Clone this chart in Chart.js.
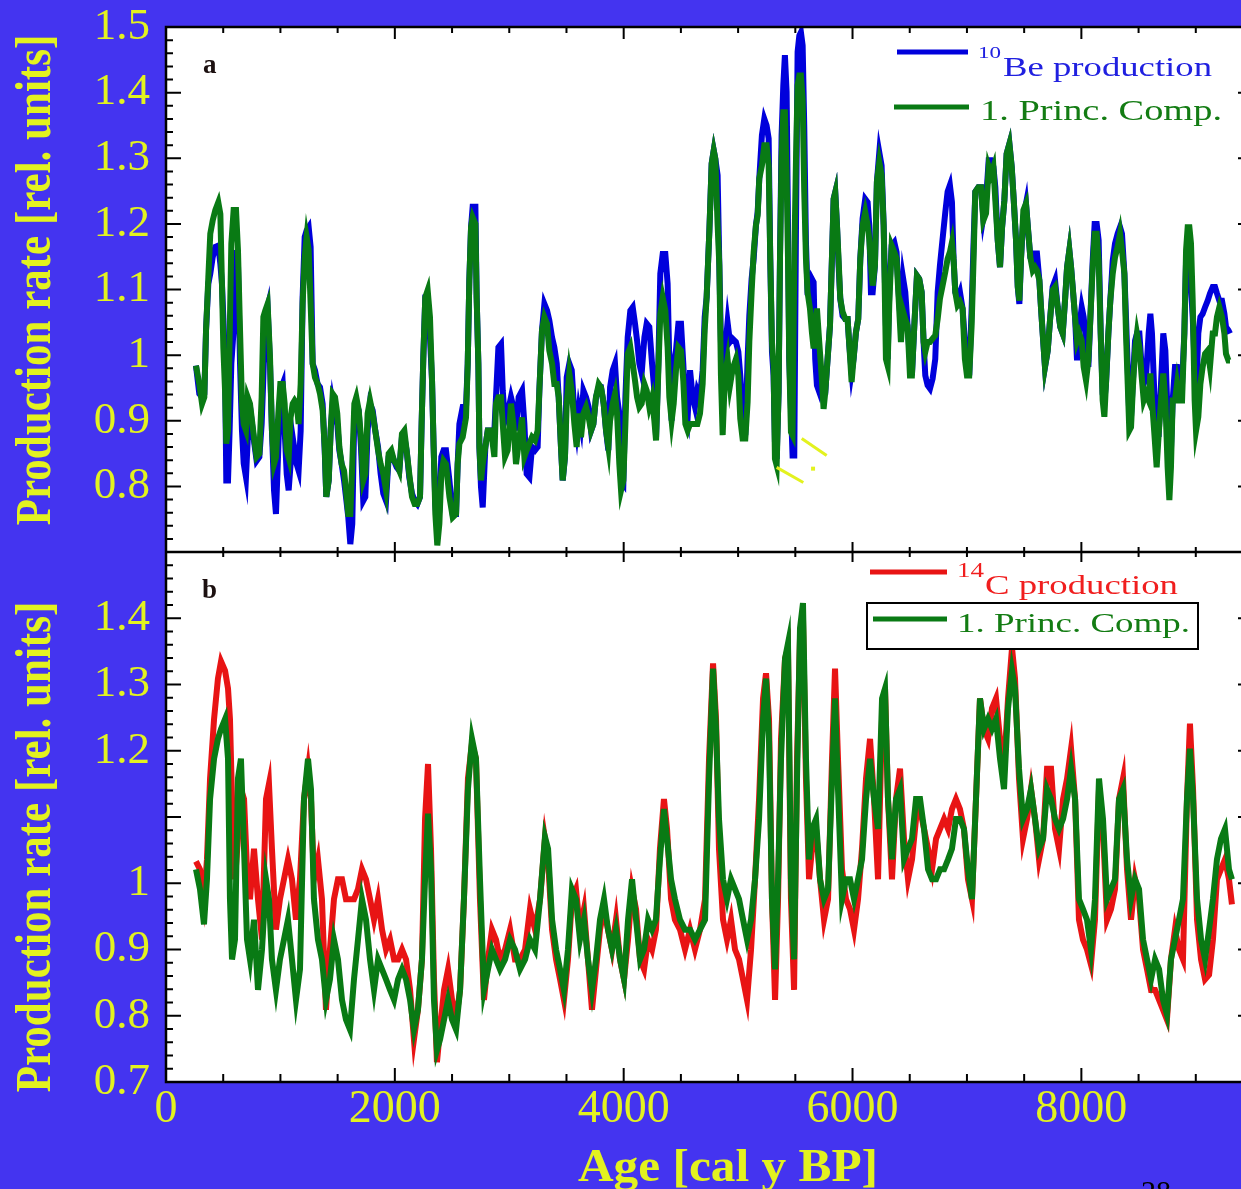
<!DOCTYPE html>
<html>
<head>
<meta charset="utf-8">
<script src="https://cdn.jsdelivr.net/npm/chart.js@4.4.1/dist/chart.umd.min.js"></script>
<style>
html,body{margin:0;padding:0;overflow:hidden;background:#4434f0}
#wrap{position:relative;width:1260px;height:1189px}
#page{position:absolute;left:1141px;top:1176px;font:30px "Liberation Serif",serif;line-height:1;color:#000}
</style>
</head>
<body>
<div id="wrap"><canvas id="c"></canvas></div>
<div id="page">28</div>
<script>
// ---- panel a : 10Be production and first principal component ----
const ageA=[
262,291,315,335,350,370,387,408,431,457,475,489,501,516,527,542,556,571,591,612,
629,647,664,679,699,714,734,752,772,792,816,836,851,868,888,909,926,944,961,982,
999,1020,1037,1055,1072,1089,1107,1124,1142,1159,1177,1194,1212,1229,1247,1264,1282,1302,1325,1346,
1369,1387,1401,1422,1439,1457,1477,1497,1515,1535,1556,1573,1593,1611,1628,1646,1663,1684,1704,1724,
1742,1762,1783,1806,1829,1853,1876,1899,1923,1946,1969,1993,2016,2039,2062,2083,2103,2126,2150,2173,
2196,2220,2234,2249,2266,2287,2307,2325,2339,2354,2371,2389,2406,2426,
2447,2477,2506,2535,2549,2564,2593,2622,2637,2651,2666,2680,2704,2715,2730,2739,2753,2768,2791,2812,
2841,2870,2884,2905,2928,2943,2963,2986,3015,3036,3059,3082,3112,3132,3152,3176,3199,3225,3248,3263,
3286,3307,3330,3350,3374,3394,3415,3432,3452,3467,3487,3502,3525,3546,3569,3589,3607,3627,3648,3671,
3694,3715,3735,3758,3782,3802,3825,3846,3866,3881,3904,3924,3942,3962,3977,3997,4015,4035,4058,4079,
4099,4117,4137,4157,4181,4201,4224,4248,4268,4283,4303,4320,4341,4364,4384,4399,4419,4437,4457,4478,
4501,4521,4539,4559,4580,4603,4623,4644,4667,4690,4708,4725,4749,4769,4787,
4801,4821,4836,4850,4865,4885,4908,4929,4952,4981,5002,5019,5039,5063,5083,5098,5118,5136,5156,5171,
5185,5208,5229,5249,5267,5281,5296,5310,5322,5337,5354,5366,5380,5395,5409,5424,5436,5447,5462,5476,
5491,5506,5520,5535,5549,5564,5578,5593,5607,5628,5645,5660,5674,5689,5709,5730,5747,5762,5782,5803,
5820,5835,5849,5864,5878,5893,5913,5937,5957,5972,5992,6009,6030,6050,6068,6088,6111,6132,6146,6161,
6176,6196,6213,6234,6254,6272,6292,6307,6321,6342,6365,6385,6403,6423,6443,6461,6481,6502,6519,6540,
6563,6583,6604,6621,6636,6656,6677,6700,6723,6744,6764,6787,6811,6831,6851,6869,6883,6898,6918,6939,
6962,6982,7000,7020,7041,7058,7073,
7100,7123,7143,7167,7190,7210,7231,7248,7269,7289,7307,7327,7347,7371,7391,7409,7429,7444,7458,7473,
7493,7516,7537,7554,7575,7595,7612,7633,7647,7662,7682,7706,7726,7749,7770,7793,7816,7837,7857,7875,
7895,7910,7924,7945,7962,7982,8003,8020,8041,8061,8079,8099,8116,8134,8151,8169,8186,8201,8215,8236,
8253,8274,8294,8317,8338,8355,8376,8390,8405,8419,8434,8449,8469,8486,8507,8527,8545,8565,8588,8603,
8617,8638,8658,8676,8696,8716,8734,8754,8769,8783,8798,8818,8836,8856,8880,8900,8915,8929,8944,8958,
8973,8990,9002,9022,9040,9060,9081,9104,9124,9148,9168,9185,9206,9229,9250,9264,9285,9299
];
const beProd=[
0.984,0.941,0.936,0.941,1.038,1.109,1.124,1.149,1.165,1.167,1.139,1.109,1.058,0.987,0.809,0.809,0.885,0.987,1.038,1.160,
1.139,0.987,0.885,0.835,0.814,0.870,0.921,0.895,0.865,0.839,0.845,0.895,0.966,1.058,1.073,0.987,0.885,0.794,0.758,0.860,
0.946,0.956,0.885,0.819,0.794,0.834,0.875,0.855,0.834,0.824,0.885,1.088,1.180,1.190,1.195,1.165,0.987,0.977,0.956,0.951,
0.926,0.855,0.784,0.809,0.885,0.926,0.905,0.895,0.855,0.834,0.809,0.784,0.753,0.712,0.743,0.911,0.926,0.916,0.860,0.778,
0.784,0.885,0.926,0.916,0.885,0.860,0.819,0.789,0.778,0.845,0.850,0.839,0.829,0.824,0.875,0.875,0.855,0.814,0.789,0.778,
0.773,0.784,0.895,0.997,1.088,1.088,1.027,0.961,0.860,0.773,0.733,0.763,0.845,0.855,
0.855,0.809,0.758,0.758,0.834,0.895,0.921,0.921,0.987,1.114,1.195,1.226,1.226,1.088,0.987,0.860,0.799,0.768,0.860,0.885,
0.885,0.885,0.936,1.012,1.017,0.946,0.900,0.911,0.936,0.921,0.885,0.936,0.946,0.895,0.819,0.814,0.860,0.855,0.860,0.946,
1.038,1.078,1.068,1.053,1.027,1.012,0.987,0.936,0.860,0.809,0.845,0.966,0.987,0.977,0.911,0.885,0.916,0.895,0.946,0.936,
0.921,0.885,0.895,0.936,0.951,0.951,0.926,0.885,0.855,0.951,0.977,0.987,0.936,0.911,0.809,0.804,0.936,1.027,1.068,1.073,
1.048,1.022,0.987,0.972,1.027,1.048,1.043,0.987,0.946,0.875,0.987,1.124,1.154,1.154,1.109,0.987,0.900,0.987,1.007,1.048,
1.048,0.987,0.921,0.905,0.977,0.936,0.921,0.946,0.936,0.977,1.058,1.088,1.190,1.292,1.312,
1.299,1.274,1.137,1.020,0.944,1.005,1.050,1.020,1.025,1.020,1.005,0.969,0.913,0.878,0.994,1.060,1.116,1.147,1.198,1.218,
1.269,1.335,1.360,1.350,1.330,1.147,1.005,0.969,0.867,0.842,0.944,1.147,1.335,1.411,1.457,1.401,1.198,0.994,0.918,0.847,
0.847,1.198,1.462,1.487,1.492,1.472,1.350,1.172,1.096,1.096,1.116,1.111,0.994,0.954,0.944,0.964,0.944,0.944,0.994,1.045,
1.147,1.238,1.248,1.198,1.137,1.086,1.060,1.055,1.055,1.015,0.974,0.994,1.035,1.055,1.147,1.208,1.238,1.233,1.198,1.096,
1.096,1.137,1.264,1.309,1.289,1.198,1.045,0.994,1.096,1.167,1.172,1.157,1.096,1.045,1.116,1.096,1.045,0.994,0.969,1.045,
1.121,1.116,1.096,1.020,0.969,0.954,0.949,0.964,0.994,1.096,1.137,1.177,1.218,1.249,1.259,1.233,1.147,1.096,1.086,1.096,
1.071,1.020,0.994,0.969,1.071,1.172,1.249,
1.256,1.256,1.210,1.236,1.297,1.297,1.287,1.256,1.175,1.134,1.195,1.236,1.307,1.322,1.287,1.236,1.175,1.104,1.078,1.149,
1.210,1.231,1.185,1.149,1.144,1.155,1.155,1.114,1.073,1.033,0.982,1.007,1.053,1.104,1.114,1.073,1.043,1.033,1.083,1.134,
1.160,1.134,1.104,1.058,0.992,1.043,1.073,1.058,1.022,0.982,1.058,1.144,1.200,1.200,1.175,1.033,0.941,0.931,0.956,1.033,
1.083,1.144,1.170,1.185,1.195,1.185,1.124,1.058,0.982,0.906,0.906,0.956,1.022,1.033,1.033,0.982,0.956,0.967,1.033,1.063,
1.033,0.941,0.880,0.880,0.956,1.033,1.007,0.906,0.840,0.855,0.931,0.982,0.982,0.956,0.956,1.033,1.144,1.149,1.134,1.104,
1.058,0.982,0.931,1.033,1.058,1.063,1.073,1.083,1.094,1.104,1.104,1.094,1.083,1.083,1.063,1.043,1.038,1.033
];
const pcA=[
0.984,0.956,0.926,0.936,1.038,1.119,1.185,1.205,1.221,1.233,1.215,1.109,1.012,0.946,0.865,0.885,1.027,1.170,1.221,1.221,
1.160,1.038,0.926,0.895,0.885,0.936,0.926,0.900,0.870,0.845,0.850,0.936,1.058,1.068,1.078,0.997,0.885,0.834,0.844,0.911,
0.956,0.956,0.926,0.855,0.844,0.905,0.926,0.931,0.926,0.895,0.956,1.078,1.149,1.180,1.160,1.078,0.987,0.966,0.956,0.941,
0.916,0.860,0.784,0.809,0.885,0.941,0.936,0.911,0.860,0.834,0.824,0.794,0.758,0.758,0.834,0.926,0.936,0.916,0.875,0.809,
0.819,0.911,0.931,0.911,0.885,0.855,0.834,0.819,0.794,0.850,0.855,0.839,0.834,0.824,0.880,0.885,0.855,0.819,0.784,0.773,
0.773,0.784,0.895,0.997,1.088,1.099,1.058,0.961,0.860,0.758,0.710,0.743,0.819,0.839,
0.834,0.784,0.753,0.758,0.834,0.865,0.875,0.905,0.987,1.114,1.195,1.210,1.200,1.088,0.987,0.860,0.809,0.834,0.860,0.885,
0.885,0.845,0.926,0.936,0.936,0.895,0.845,0.855,0.926,0.895,0.834,0.865,0.905,0.845,0.855,0.865,0.875,0.870,0.885,0.946,
1.038,1.058,1.048,1.007,0.987,0.956,0.956,0.936,0.860,0.809,0.845,0.926,0.972,0.946,0.895,0.860,0.911,0.875,0.911,0.921,
0.905,0.885,0.895,0.936,0.956,0.951,0.926,0.885,0.860,0.900,0.926,0.941,0.911,0.834,0.794,0.809,0.895,1.002,1.012,0.987,
0.961,0.936,0.921,0.926,0.956,0.946,0.921,0.936,0.900,0.870,0.977,1.063,1.088,1.068,1.012,0.936,0.900,0.926,0.977,1.012,
1.007,0.961,0.895,0.885,0.895,0.895,0.895,0.895,0.911,0.956,1.038,1.088,1.190,1.292,1.312,
1.299,1.198,1.137,0.969,0.878,0.969,0.994,0.954,0.979,0.994,0.969,0.903,0.873,0.873,0.928,1.020,1.096,1.157,1.198,1.213,
1.269,1.289,1.320,1.320,1.289,1.147,1.020,0.984,0.842,0.832,0.944,1.147,1.299,1.370,1.370,1.274,1.147,0.994,0.883,0.878,
1.147,1.299,1.411,1.426,1.426,1.391,1.249,1.147,1.096,1.071,1.035,1.010,1.045,1.071,1.020,0.969,0.918,0.944,0.994,1.045,
1.147,1.238,1.248,1.198,1.147,1.086,1.066,1.055,1.055,1.015,0.959,0.994,1.035,1.055,1.147,1.198,1.218,1.198,1.177,1.137,
1.106,1.137,1.264,1.294,1.274,1.198,0.994,0.984,1.076,1.167,1.157,1.147,1.086,1.020,1.066,1.055,1.045,0.969,0.969,1.045,
1.121,1.116,1.096,1.020,1.005,1.020,1.020,1.025,1.030,1.055,1.086,1.106,1.127,1.147,1.157,1.172,1.147,1.096,1.076,1.081,
1.071,0.994,0.969,0.969,1.045,1.147,1.249,
1.256,1.256,1.205,1.216,1.287,1.276,1.287,1.236,1.175,1.134,1.195,1.236,1.307,1.322,1.287,1.236,1.175,1.104,1.083,1.149,
1.221,1.231,1.185,1.149,1.129,1.134,1.129,1.114,1.073,1.033,0.982,1.007,1.053,1.099,1.104,1.073,1.043,1.033,1.083,1.134,
1.160,1.134,1.104,1.058,1.022,1.033,1.022,0.982,0.961,0.992,1.058,1.134,1.185,1.185,1.144,1.033,0.931,0.906,0.956,1.033,
1.083,1.124,1.149,1.165,1.185,1.160,1.124,1.033,0.956,0.885,0.890,0.946,1.007,1.033,1.012,0.967,0.931,0.941,0.931,0.972,
0.931,0.880,0.829,0.880,0.931,0.972,0.931,0.829,0.779,0.829,0.931,0.931,0.956,0.931,0.931,1.033,1.160,1.195,1.195,1.170,
1.083,0.931,0.885,0.906,0.956,0.982,1.002,1.007,0.982,1.033,1.033,1.058,1.073,1.058,1.033,1.002,0.992,0.992
];

// ---- panel b : 14C production and first principal component ----
const ageB=[
262,297,332,358,385,420,454,481,516,542,559,577,603,629,655,682,708,734,769,804,
839,874,900,926,961,996,1031,1066,1101,1136,1171,1206,1241,1267,1293,1328,1363,1398,1433,1468,
1503,1538,1573,1608,1643,1678,1713,1748,1783,1818,1853,1888,1923,1958,1993,2028,2063,2098,2133,2167,
2202,2237,2264,2290,2316,2342,2368,2395,2430,2465,2500,2535,2570,2604,2639,2674,2709,2744,2779,2814,
2849,2884,2919,2963,3007,3050,3094,3138,3181,3225,3269,3312,3339,3374,3409,3444,3478,3513,3548,3583,
3618,3653,3688,3723,3758,3793,3828,3863,3898,3933,3968,4003,4038,4073,4108,4143,4178,4213,4248,4282,
4317,4352,4379,4414,4448,4492,4536,4580,4623,4667,4711,4746,4781,4807,4833,4868,4903,4938,4973,5008,
5043,5078,5113,5148,5183,5218,5244,5270,5296,5323,5349,5375,5410,5436,5462,5489,5515,5541,5567,5593,
5620,5646,5681,5716,5751,5786,5821,5847,5873,5908,5943,5978,6013,6048,6083,6118,6153,6188,6223,6258,
6284,6310,6345,6380,6415,6450,6485,6520,6555,6590,6625,6660,6695,6730,6765,6800,6835,6869,6904,6939,
6974,7009,7044,7079,7114,7149,7184,7219,7254,7289,7324,7359,7394,7420,7455,7490,7525,7560,7595,7630,
7665,7700,7735,7770,7805,7840,7875,7910,7945,7979,8014,8049,8084,8119,8154,8189,8224,8259,8294,8329,
8364,8399,8434,8469,8504,8539,8574,8609,8644,8679,8714,8748,8783,8818,8853,8888,8923,8949,8976,9011,
9046,9081,9116,9150,9185,9220,9255,9290,9316
];
const c14Prod=[
1.033,1.021,0.976,1.036,1.158,1.248,1.309,1.335,1.321,1.294,1.248,1.127,1.006,1.067,1.142,1.127,1.021,0.976,1.052,0.976,
0.915,1.127,1.150,1.052,0.930,0.976,1.006,1.036,1.006,0.945,1.006,1.127,1.173,1.127,1.006,1.036,0.976,0.809,0.900,0.976,
1.006,1.006,0.976,0.976,0.976,0.991,1.021,1.006,0.976,0.945,0.976,0.930,0.900,0.915,0.885,0.885,0.900,0.885,0.839,0.764,
0.809,0.885,1.097,1.180,1.052,0.855,0.730,0.779,0.839,0.870,0.824,0.794,0.839,0.976,1.158,1.211,1.188,0.976,0.824,0.885,
0.930,0.915,0.885,0.900,0.930,0.885,0.885,0.900,0.961,0.930,0.976,1.067,1.036,0.930,0.885,0.855,0.824,0.885,0.976,0.991,
0.930,0.961,0.885,0.809,0.870,0.930,0.961,0.930,0.900,0.945,0.885,0.855,0.915,0.991,0.961,0.885,0.870,0.915,0.900,0.930,
1.052,1.127,1.082,0.976,0.945,0.930,0.900,0.930,0.900,0.930,0.976,1.188,1.332,1.248,1.052,0.945,0.915,0.945,0.900,0.885,
0.855,0.824,0.900,1.006,1.127,1.279,1.317,1.248,0.976,0.824,0.976,1.218,1.339,1.355,0.976,0.839,1.188,1.370,1.400,1.158,
1.006,1.052,1.082,1.006,0.945,0.976,1.188,1.324,1.188,1.021,0.976,0.961,0.930,0.976,1.052,1.158,1.218,1.127,1.006,1.248,
1.294,1.127,1.006,1.127,1.173,1.067,1.006,1.036,1.097,1.112,1.082,1.052,1.021,1.067,1.082,1.097,1.082,1.112,1.127,1.112,
1.082,1.006,0.976,1.127,1.279,1.233,1.218,1.264,1.279,1.218,1.173,1.279,1.355,1.309,1.158,1.067,1.097,1.142,1.097,1.036,
1.067,1.173,1.173,1.082,1.052,1.127,1.158,1.203,1.127,0.945,0.915,0.900,0.877,0.945,1.142,1.082,0.945,0.961,0.991,1.127,
1.158,1.021,0.945,1.006,0.976,0.900,0.870,0.839,0.839,0.824,0.809,0.794,0.885,0.930,0.900,0.885,1.127,1.241,1.142,0.945,
0.885,0.855,0.862,0.915,1.006,1.021,1.036,1.006,0.968
];
const pcB=[
1.021,0.991,0.938,1.006,1.127,1.188,1.218,1.233,1.248,1.188,0.976,0.885,0.915,1.158,1.188,1.052,0.915,0.885,0.945,0.839,
0.900,1.006,0.976,0.885,0.839,0.885,0.915,0.945,0.885,0.824,0.870,1.127,1.188,1.142,0.976,0.915,0.885,0.824,0.855,0.915,
0.885,0.824,0.794,0.779,0.855,0.915,0.976,0.945,0.885,0.839,0.885,0.870,0.855,0.839,0.824,0.855,0.870,0.855,0.824,0.779,
0.809,0.885,1.006,1.105,1.021,0.824,0.748,0.764,0.794,0.824,0.794,0.779,0.839,0.976,1.142,1.218,1.188,1.006,0.839,0.870,
0.900,0.885,0.870,0.885,0.915,0.900,0.870,0.885,0.915,0.900,0.976,1.070,1.052,0.945,0.900,0.870,0.839,0.900,0.991,0.976,
0.915,0.945,0.885,0.839,0.885,0.945,0.976,0.930,0.900,0.930,0.885,0.855,0.945,1.006,0.945,0.885,0.900,0.945,0.930,0.945,
1.036,1.112,1.067,1.006,0.976,0.945,0.930,0.930,0.915,0.930,0.945,1.158,1.324,1.233,1.097,1.006,0.976,1.006,0.991,0.976,
0.945,0.915,0.945,1.006,1.097,1.248,1.309,1.218,0.976,0.870,1.006,1.188,1.339,1.362,1.006,0.885,1.158,1.385,1.423,1.188,
1.036,1.082,1.097,1.006,0.976,0.991,1.158,1.279,1.142,0.976,1.006,1.006,0.976,1.006,1.036,1.127,1.188,1.127,1.082,1.279,
1.294,1.127,1.036,1.127,1.142,1.036,1.052,1.067,1.127,1.127,1.082,1.021,1.006,1.006,1.021,1.021,1.036,1.052,1.097,1.097,
1.082,1.021,0.976,1.127,1.279,1.233,1.248,1.233,1.248,1.188,1.142,1.264,1.321,1.294,1.173,1.097,1.112,1.142,1.097,1.052,
1.067,1.142,1.127,1.097,1.082,1.097,1.127,1.173,1.127,0.976,0.961,0.945,0.900,0.976,1.158,1.097,0.976,0.991,1.006,1.127,
1.142,1.036,0.976,1.006,0.991,0.915,0.885,0.855,0.885,0.870,0.824,0.802,0.885,0.915,0.945,0.976,1.127,1.203,1.127,0.976,
0.915,0.885,0.930,0.976,1.036,1.067,1.082,1.021,1.006
];

const xTicks=[0,2000,4000,6000,8000];
const hideA=[0.7];        // bottom label of the upper panel is left out
const hideB=[1.5,1.1];    // lower panel skips these labels

const BG='#4434f0', YEL='#e3f21f', BLUE='#0000dc', GREEN='#097a14', RED='#e81414';
const SERIF='"Liberation Serif","Times New Roman",serif';

const xy=(ages,vals)=>ages.map((a,i)=>({x:a,y:vals[i]}));
const fmt=v=>Math.abs(v-1)<1e-6?'1':v.toFixed(1);

function yAxis(hide,weight,h){
  return{
    type:'linear',position:'left',stack:'panels',stackWeight:h,weight,
    min:0.7,max:1.5,
    grid:{display:false,drawTicks:false},border:{display:false},
    ticks:{stepSize:0.1,padding:16,autoSkip:false,color:YEL,font:{family:SERIF,size:45},
      callback:v=>hide.some(h=>Math.abs(h-v)<1e-6)?'':fmt(v)},
    afterFit:s=>{s.width=166;s.paddingTop=0;s.paddingBottom=0;}
  };
}

// stretch text horizontally to a given width
function wideText(ctx,str,x,y,w){
  const m=ctx.measureText(str).width;
  ctx.save();ctx.translate(x,y);ctx.scale(w/m,1);ctx.textAlign='left';ctx.fillText(str,0,0);ctx.restore();
}

function ticksOn(ctx,chart){
  const {x,ya,yb}=chart.scales;
  const L=x.left,R=x.right;
  ctx.beginPath();
  [ya,yb].forEach(s=>{
    for(let i=35;i<=75;i++){
      const py=s.getPixelForValue(i/50),len=i%5===0?15:7;
      ctx.moveTo(L,py);ctx.lineTo(L+len,py);
      ctx.moveTo(R,py);ctx.lineTo(R-len,py);
    }
  });
  for(let a=0;a<=9500;a+=500){
    const px=x.getPixelForValue(a),maj=a%2000===0;
    ctx.moveTo(px,yb.bottom);ctx.lineTo(px,yb.bottom-(maj?14:8));
    ctx.moveTo(px,ya.top);ctx.lineTo(px,ya.top+(maj?12:6));
    ctx.moveTo(px,ya.bottom-(maj?10:5));ctx.lineTo(px,ya.bottom+(maj?10:5));
  }
  ctx.strokeStyle='#000';ctx.lineWidth=2;ctx.stroke();
}

function legendLine(ctx,x1,x2,y,col){
  ctx.beginPath();ctx.moveTo(x1,y);ctx.lineTo(x2,y);
  ctx.strokeStyle=col;ctx.lineWidth=5;ctx.stroke();
}

const decor={
  id:'decor',
  beforeDraw(chart){
    const {ctx,chartArea:a}=chart;
    ctx.save();
    ctx.fillStyle=BG;ctx.fillRect(0,0,chart.width,chart.height);
    ctx.fillStyle='#fff';ctx.fillRect(a.left,a.top,a.right-a.left,a.bottom-a.top);
    ctx.restore();
  },
  afterDatasetsDraw(chart){
    const {ctx,chartArea:a}=chart;
    const {x,ya,yb}=chart.scales;
    ctx.save();
    // small yellow marks under the 5.4 ka minimum
    ctx.strokeStyle=YEL;ctx.lineWidth=3;ctx.beginPath();
    [[5337,0.829,5570,0.806],[5556,0.873,5774,0.847]].forEach(s=>{
      ctx.moveTo(x.getPixelForValue(s[0]),ya.getPixelForValue(s[1]));
      ctx.lineTo(x.getPixelForValue(s[2]),ya.getPixelForValue(s[3]));
    });
    ctx.stroke();
    ctx.fillStyle=YEL;ctx.fillRect(x.getPixelForValue(5655)-2,ya.getPixelForValue(0.827)-2,4,4);

    ticksOn(ctx,chart);
    ctx.strokeStyle='#000';ctx.lineWidth=2.5;
    ctx.strokeRect(a.left,a.top,a.right-a.left,a.bottom-a.top);
    ctx.beginPath();ctx.moveTo(a.left,ya.bottom);ctx.lineTo(a.right,ya.bottom);ctx.stroke();

    // panel letters
    ctx.fillStyle='#1c1010';ctx.font='bold 27px '+SERIF;ctx.textBaseline='alphabetic';
    ctx.fillText('a',a.left+37,a.top+46);
    ctx.fillText('b',a.left+36,ya.bottom+46);

    // legend, upper panel
    legendLine(ctx,897,968,52,BLUE);
    ctx.fillStyle='#2020e0';
    ctx.font='17px '+SERIF;wideText(ctx,'10',978,58,23);
    ctx.font='27px '+SERIF;wideText(ctx,'Be production',1003,76,209);
    legendLine(ctx,894,969,107,GREEN);
    ctx.fillStyle='#137c13';
    ctx.font='29px '+SERIF;wideText(ctx,'1. Princ. Comp.',980,120,242);

    // legend, lower panel
    legendLine(ctx,870,947,572,RED);
    ctx.fillStyle='#f01e1e';
    ctx.font='20px '+SERIF;wideText(ctx,'14',957,577,27);
    ctx.font='27px '+SERIF;wideText(ctx,'C production',985,594,193);
    ctx.fillStyle='#fff';ctx.fillRect(867,603,331,46);
    ctx.strokeStyle='#000';ctx.lineWidth=2;ctx.strokeRect(867,603,331,46);
    legendLine(ctx,873,947,619,GREEN);
    ctx.fillStyle='#137c13';
    ctx.font='28px '+SERIF;wideText(ctx,'1. Princ. Comp.',957,632,233);
    ctx.restore();
  },
  afterDraw(chart){
    const {ctx}=chart;
    ctx.save();
    ctx.fillStyle=YEL;ctx.font='bold 43px '+SERIF;ctx.textAlign='center';ctx.textBaseline='alphabetic';
    [280,847].forEach(cy=>{
      ctx.save();ctx.translate(50,cy);ctx.rotate(-Math.PI/2);ctx.scale(1,1.2);
      ctx.fillText('Production rate [rel. units]',0,0);ctx.restore();
    });
    ctx.font='bold 46px '+SERIF;
    wideText(ctx,'Age [cal y BP]',578,1181,300);
    ctx.restore();
  }
};

new Chart(document.getElementById('c'),{
  type:'line',
  data:{datasets:[
    {data:xy(ageA,pcA),yAxisID:'ya',borderColor:GREEN,order:0},
    {data:xy(ageA,beProd),yAxisID:'ya',borderColor:BLUE,order:1},
    {data:xy(ageB,pcB),yAxisID:'yb',borderColor:GREEN,order:0},
    {data:xy(ageB,c14Prod),yAxisID:'yb',borderColor:RED,order:1}
  ]},
  options:{
    responsive:true,maintainAspectRatio:false,animation:false,events:[],
    layout:{padding:{top:27,right:7,bottom:0,left:0}},
    elements:{line:{borderWidth:6,tension:0,borderJoinStyle:'miter'},point:{radius:0}},
    plugins:{legend:{display:false},tooltip:{enabled:false}},
    scales:{
      x:{type:'linear',position:'bottom',min:0,max:9500,
        grid:{display:false,drawTicks:false},border:{display:false},
        ticks:{color:YEL,font:{family:SERIF,size:46},padding:0,maxRotation:0,autoSkip:false,
          callback:v=>String(v)},
        afterBuildTicks:s=>{s.ticks=xTicks.map(v=>({value:v}));},
        afterFit:s=>{s.height=107;s.paddingLeft=0;s.paddingRight=0;}},
      ya:yAxis(hideA,2,525),
      yb:yAxis(hideB,1,530)
    }
  },
  plugins:[decor]
});
</script>
</body>
</html>
